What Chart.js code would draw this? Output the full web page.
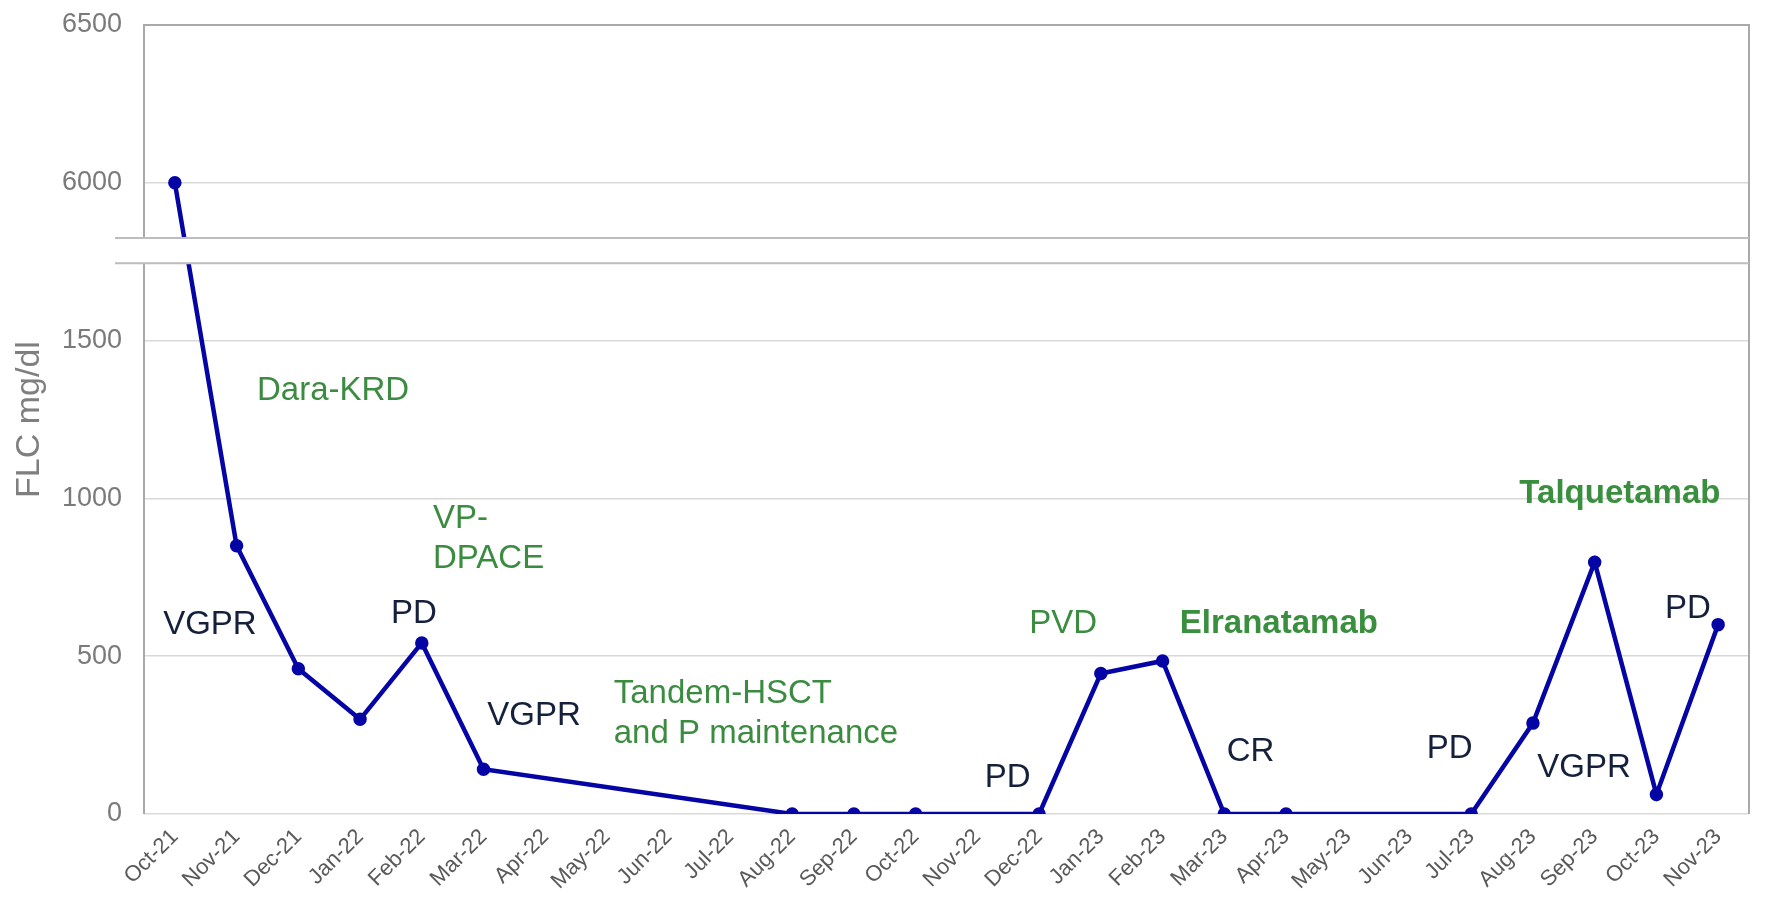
<!DOCTYPE html>
<html>
<head>
<meta charset="utf-8">
<title>FLC mg/dl</title>
<script src="https://cdn.jsdelivr.net/npm/chart.js@4.4.1/dist/chart.umd.min.js"></script>
<style>
    html, body { margin: 0; padding: 0; background: #fff; }
    .chart-container { width: 1772px; height: 916px; position: relative; }
</style>
</head>
<body>
<div class="chart-container"><canvas id="flcChart"></canvas></div>
<script>
// months on the x axis
const months = ['Oct-21', 'Nov-21', 'Dec-21', 'Jan-22', 'Feb-22', 'Mar-22', 'Apr-22', 'May-22', 'Jun-22',
    'Jul-22', 'Aug-22', 'Sep-22', 'Oct-22', 'Nov-22', 'Dec-22', 'Jan-23', 'Feb-23', 'Mar-23', 'Apr-23',
    'May-23', 'Jun-23', 'Jul-23', 'Aug-23', 'Sep-23', 'Oct-23', 'Nov-23'];

// FLC mg/dl, null = no measurement that month
const flcValues = [6000, 850, 460, 300, 542, 142, null, null, null, null, 0, 0, 0, null, 0,
    445, 485, 0, 0, null, null, 0, 288, 798, 62, 600];

// y tick values (real units)
const yTicks = [0, 500, 1000, 1500, 6000, 6500];

// broken axis: values between these two are cut out
const breakFrom = 1745;
const breakTo = 5825;
const axisShift = 4000;

// text notes on the chart, anchored at (month index, value)
const noteTexts = ['Dara-KRD', 'VGPR', ['VP-', 'DPACE'], 'PD', 'VGPR', ['Tandem-HSCT', 'and P maintenance'],
    'PD', 'PVD', 'Elranatamab', 'CR', 'PD', 'VGPR', 'Talquetamab', 'PD'];
const noteKinds = ['therapy', 'response', 'therapy', 'response', 'response', 'therapy',
    'response', 'therapy', 'bispecific', 'response', 'response', 'response', 'bispecific', 'response'];
const noteMonth = [1.33, -0.19, 4.18, 3.50, 5.06, 7.11, 13.12, 13.84, 16.28, 17.04, 20.28, 22.07, 21.78, 24.14];
const noteLevel = [1312, 570, 906, 605, 282, 352, 86, 574, 574, 168, 177, 117, 985, 621];

const FONT = '"Liberation Sans", Arial, sans-serif';

function toAxis(v) {
    if (v === null) return null;
    return v > breakFrom ? v - axisShift : v;
}

const noteStyles = {
    therapy: { color: '#3b8c40', weight: 'normal' },
    bispecific: { color: '#3a8f3e', weight: 'bold' },
    response: { color: '#14203c', weight: 'normal' }
};

const breakPlugin = {
    id: 'breakAndNotes',
    afterDatasetsDraw(chart) {
        const ctx = chart.ctx;
        const area = chart.chartArea;
        const y = chart.scales.y;
        const x = chart.scales.x;

        // frame: left axis, top, right
        ctx.save();
        ctx.strokeStyle = '#a9a9a9';
        ctx.lineWidth = 2;
        ctx.beginPath();
        ctx.moveTo(area.left, area.bottom);
        ctx.lineTo(area.left, area.top);
        ctx.lineTo(area.right, area.top);
        ctx.lineTo(area.right, area.bottom);
        ctx.stroke();

        // the break band
        let yTop = y.getPixelForValue(breakTo - axisShift);
        let yBottom = y.getPixelForValue(breakFrom);
        ctx.fillStyle = '#ffffff';
        ctx.fillRect(area.left - 30, yTop, area.right - area.left + 29, yBottom - yTop);
        ctx.strokeStyle = '#bdbdbd';
        ctx.lineWidth = 2;
        ctx.beginPath();
        ctx.moveTo(area.left - 29, yTop);
        ctx.lineTo(area.right, yTop);
        ctx.moveTo(area.left - 29, yBottom);
        ctx.lineTo(area.right, yBottom);
        ctx.stroke();

        // notes
        ctx.textAlign = 'left';
        ctx.textBaseline = 'alphabetic';
        noteTexts.forEach((t, i) => {
            let st = noteStyles[noteKinds[i]];
            ctx.fillStyle = st.color;
            ctx.font = st.weight + ' 33px ' + FONT;
            let lines = Array.isArray(t) ? t : [t];
            let px = x.getPixelForValue(noteMonth[i]);
            let py = y.getPixelForValue(noteLevel[i]);
            lines.forEach((line, k) => {
                ctx.fillText(line, px, py + k * 40);
            });
        });
        ctx.restore();
    }
};

let flcChart = new Chart(document.getElementById('flcChart'), {
    type: 'line',
    data: {
        labels: months,
        datasets: [{
            label: 'FLC mg/dl',
            data: flcValues.map(toAxis),
            borderColor: '#0505a5',
            backgroundColor: '#0505a5',
            borderWidth: 4.5,
            pointRadius: 4.5,
            pointHoverRadius: 4.5,
            spanGaps: true,
            tension: 0
        }]
    },
    options: {
        responsive: true,
        maintainAspectRatio: false,
        animation: false,
        layout: { padding: { top: 25, right: 23, left: 0, bottom: 0 } },
        plugins: {
            legend: { display: false },
            tooltip: { enabled: false }
        },
        scales: {
            x: {
                offset: true,
                grid: { display: false, drawTicks: false },
                border: { display: false },
                ticks: {
                    autoSkip: false,
                    maxRotation: 45,
                    minRotation: 45,
                    padding: 10,
                    color: '#595959',
                    font: { family: FONT, size: 22 }
                },
                afterFit(scale) { scale.height = 102; }
            },
            y: {
                min: 0,
                max: 6500 - axisShift,
                afterBuildTicks(scale) {
                    scale.ticks = yTicks.map(v => ({ value: toAxis(v) }));
                },
                grid: {
                    color: '#d9d9d9',
                    lineWidth: 1.5,
                    drawTicks: false
                },
                border: { display: false },
                ticks: {
                    padding: 22,
                    color: '#7a7a7a',
                    font: { family: FONT, size: 27 },
                    callback: value => (value > breakFrom ? value + axisShift : value)
                },
                title: {
                    display: true,
                    text: 'FLC mg/dl',
                    color: '#7f7f7f',
                    font: { family: FONT, size: 34 },
                    padding: { top: 9, bottom: 0 }
                },
                afterFit(scale) {
                    scale.width = 144;
                    scale.paddingTop = 0;
                    scale.paddingBottom = 0;
                }
            }
        }
    },
    plugins: [breakPlugin]
});
</script>
</body>
</html>
